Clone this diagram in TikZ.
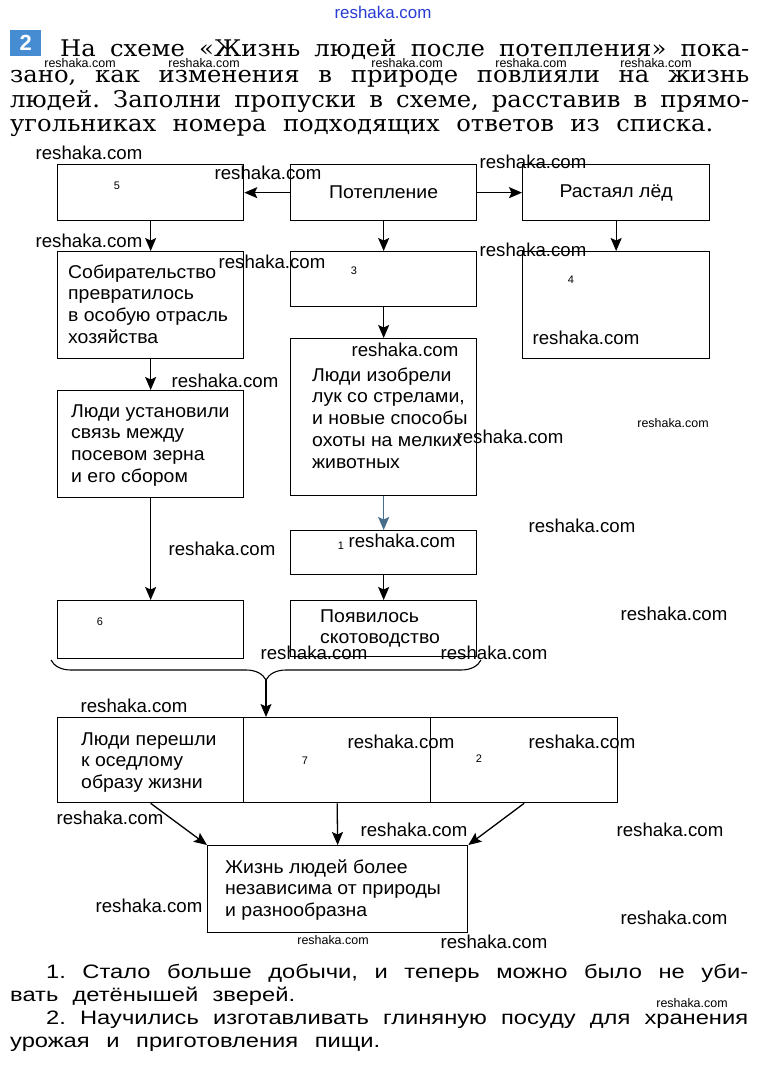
\documentclass[tikz,border=0pt]{standalone}
\usepackage{fontspec}
\setmainfont{Liberation Sans}
\newfontfamily\topserif[FakeStretch=1.06]{DejaVu Serif}
\newfontfamily\boxfont[FakeStretch=1.05]{Liberation Sans}
\newfontfamily\botfont[FakeStretch=1.22]{Liberation Sans}
\usetikzlibrary{arrows.meta,decorations.pathreplacing,calc}
\definecolor{iconblue}{RGB}{70,140,210}
\definecolor{wmblue}{RGB}{40,60,210}
\definecolor{arrblue}{RGB}{70,110,140}
\newcommand\blk[1]{\parbox[t]{240bp}{\raggedright #1}}
\begin{document}
\frenchspacing
\begin{tikzpicture}[x=1bp,y=-1bp,
 box/.style={draw,line width=1.3bp,inner sep=0pt,anchor=north west,font=\boxfont\fontsize{18.6}{22}\selectfont},
 txt/.style={anchor=base west,inner sep=0pt,font=\boxfont\fontsize{18.6}{22}\selectfont},
 num/.style={inner sep=0pt,font=\fontsize{11}{12}\selectfont},
 wm/.style={inner sep=0pt,font=\fontsize{18.7}{20}\selectfont},
 wms/.style={inner sep=0pt,font=\fontsize{12.5}{14}\selectfont},
 arr/.style={-{Stealth[length=13bp,width=11bp,inset=2.5bp]},line width=1.3bp},
 toptxt/.style={anchor=base west,inner sep=0pt,font=\topserif\fontsize{23}{25}\selectfont},
 bottxt/.style={anchor=base west,inner sep=0pt,font=\botfont\fontsize{19.5}{23}\selectfont}]

\path[fill=white,use as bounding box] (0,0) rectangle (764,1068);

% header
\node[wm,text=wmblue,font=\fontsize{17}{18}\selectfont] (wtop) at (383,12) {reshaka.com};
\node[fill=iconblue,minimum width=31bp,minimum height=26bp,anchor=north west,inner sep=0pt,text=white,font=\bfseries\fontsize{22}{22}\selectfont] (icon) at (10,30) {2};
\node[toptxt] (t1) at (60,56) {\makebox[689bp][s]{На схеме «Жизнь людей после потепления» пока-}};
\node[toptxt] (t2) at (10,82) {\makebox[739bp][s]{зано, как изменения в природе повлияли на жизнь}};
\node[toptxt] (t3) at (10,107) {\makebox[739bp][s]{людей. Заполни пропуски в схеме, расставив в прямо-}};
\node[toptxt] (t4) at (10,131) {\makebox[703bp][s]{угольниках номера подходящих ответов из списка.}};

% boxes
\node[box,minimum width=186bp,minimum height=56bp] (b5) at (57,164) {};
\node[box,minimum width=186bp,minimum height=56bp] (pot) at (290,164) {Потепление};
\node[box,minimum width=187bp,minimum height=56bp] (ice) at (522,164) {Растаял лёд};
\node[box,minimum width=186bp,minimum height=107bp] (sob) at (57,251) {};
\node[box,minimum width=186bp,minimum height=55bp] (b3) at (290,251) {};
\node[box,minimum width=187bp,minimum height=107bp] (b4) at (522,251) {};
\node[box,minimum width=186bp,minimum height=157bp] (luk) at (290,338) {};
\node[box,minimum width=186bp,minimum height=107bp] (svy) at (57,390) {};
\node[box,minimum width=186bp,minimum height=44bp] (b1) at (290,530) {};
\node[box,minimum width=186bp,minimum height=58bp] (b6) at (57,600) {};
\node[box,minimum width=186bp,minimum height=56bp] (skot) at (290,600) {};
\node[box,minimum width=186bp,minimum height=85bp] (r1) at (57,717) {};
\node[box,minimum width=187bp,minimum height=85bp] (r2) at (243,717) {};
\node[box,minimum width=187bp,minimum height=85bp] (r3) at (430,717) {};
\node[box,minimum width=260bp,minimum height=87bp] (fin) at (207,845) {};

% box texts
\node[txt] (sobt) at (68,278) {\blk{Собирательство\\превратилось\\в особую отрасль\\хозяйства}};
\node[txt] (lukt) at (312,381) {\blk{Люди изобрели\\лук со стрелами,\\и новые способы\\охоты на мелких\\животных}};
\node[txt] (svyt) at (71,417) {\blk{Люди установили\\связь между\\посевом зерна\\и его сбором}};
\node[txt] (skott) at (320,622) {\blk{Появилось\\скотоводство}};
\node[txt] (r1t) at (81,745) {\blk{Люди перешли\\к оседлому\\образу жизни}};
\node[txt] (fint) at (225,873) {\blk{Жизнь людей более\\независима от природы\\и разнообразна}};

% numbers
\node[num] (n5) at (117,186) {5};
\node[num] (n3) at (354,271) {3};
\node[num] (n4) at (571,280) {4};
\node[num] (n1) at (341,546) {1};
\node[num] (n6) at (100,622) {6};
\node[num] (n7) at (305,761) {7};
\node[num] (n2) at (479,759) {2};

% connectors
\draw[arr] (pot.west) -- (b5.east);
\draw[arr] (pot.east) -- (ice.west);
\draw[arr] (b5.south) -- (sob.north);
\draw[arr] (pot.south) -- (b3.north);
\draw[arr] (ice.south) -- (b4.north);
\draw[arr] (b3.south) -- (luk.north);
\draw[arr] (sob.south) -- (svy.north);
\draw[arr,draw=arrblue,fill=arrblue] (luk.south) -- (b1.north);
\draw[arr] (svy.south) -- (b6.north);
\draw[arr] (b1.south) -- (skot.north);
\coordinate (brR) at (481,660);
\coordinate (brL) at (51,660);
\coordinate (brT) at (266,680);
\draw[line width=1.1bp,decorate,decoration={brace,amplitude=20bp,aspect=0.5}] (brR) -- (brL);
\draw[arr] (brT) -- (brT |- r2.north);
\draw[arr] (r1.south) -- (fin.north west);
\draw[arr] (r2.south) -- (fin.north);
\draw[arr] (r3.south) -- (fin.north east);

% bottom text
\node[bottxt] (l1) at (46,978) {\makebox[702bp][s]{1. Стало больше добычи, и теперь можно было не уби-}};
\node[bottxt] (l2) at (10,1001) {\makebox[285bp][s]{вать детёнышей зверей.}};
\node[bottxt] (l3) at (46,1024) {\makebox[702bp][s]{2. Научились изготавливать глиняную посуду для хранения}};
\node[bottxt] (l4) at (10,1047) {\makebox[370bp][s]{урожая и приготовления пищи.}};

% watermarks
\foreach \x/\y [count=\i] in {89/153,268/173,533/162,89/241,272/262,533/250,405/350,586/338,225/381,510/437,582/526,222/549,402/541,674/614,314/653,494/653,134/706,401/742,582/742,110/818,414/830,670/830,149/906,674/918,494/942}
  \node[wm] (wm\i) at (\x,\y) {reshaka.com};
\foreach \x/\y [count=\i] in {80/63,204/63,407/63,531/63,656/63,673/423,333/940,692/1003}
  \node[wms] (wms\i) at (\x,\y) {reshaka.com};
\end{tikzpicture}
\end{document}
